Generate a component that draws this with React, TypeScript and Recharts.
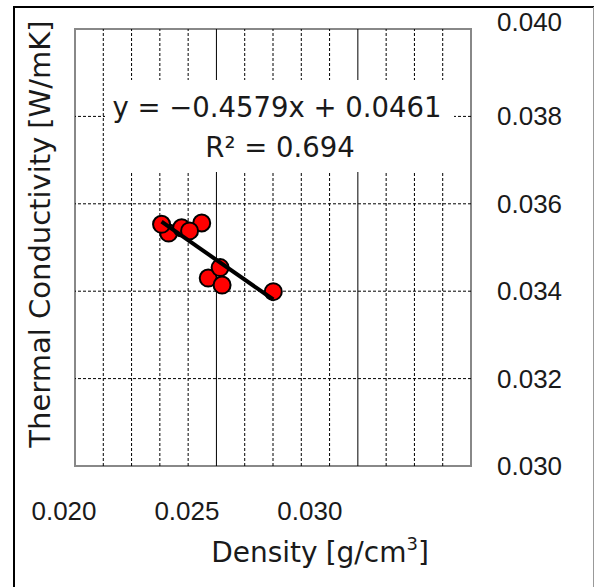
import { ScatterChart, Scatter, XAxis, YAxis, ReferenceLine, ReferenceArea } from 'recharts'

// measured points (listed in drawing order so overlaps match)
const density = [0.02331, 0.02306, 0.02377, 0.02448, 0.02405, 0.02471, 0.0252, 0.02513, 0.02701]
const conductivity = [0.03533, 0.03553, 0.03545, 0.03556, 0.03538, 0.0343, 0.03414, 0.03454, 0.03399]

// linear fit line, ends
const trendX = [0.02306, 0.02701]
const trendY = [0.03559, 0.03381]

const xTicks = [0.02, 0.025, 0.03]
const yTicks = [0.03, 0.032, 0.034, 0.036, 0.038, 0.04]
const xMinorGrid = [0.021, 0.022, 0.023, 0.024, 0.026, 0.027, 0.028, 0.029, 0.031, 0.032, 0.033]
const xMajorGrid = [0.025, 0.03]
const yGrid = [0.032, 0.034, 0.036, 0.038]

const FONT = '"DejaVu Sans", sans-serif'
const TICK_FONT = '"Liberation Sans", Arial, sans-serif'

const points = density.map((x, i) => ({ x, y: conductivity[i] }))
const trend = trendX.map((x, i) => ({ x, y: trendY[i] }))

const RedDot = (props: any) => (
    <circle cx={props.cx} cy={props.cy} r={8.5} fill="#ff0000" stroke="#000" strokeWidth={2} />
)

// the original's x labels drift left of their gridlines
const XTick = ({ x, y, payload }: any) => (
    <text x={x} y={y} dx={-11 - (payload.value - 0.02) * 3700} textAnchor="middle" dominantBaseline="central"
        fontFamily={TICK_FONT} fontSize={26} fill="#1a1a1a">
        {payload.value.toFixed(3)}
    </text>
)

const YTick = ({ x, y, payload }: any) => (
    <text x={x} y={y} dy={payload.value >= 0.04 ? -7 : 0} textAnchor="start" dominantBaseline="central"
        fontFamily={TICK_FONT} fontSize={26} fill="#1a1a1a">
        {payload.value.toFixed(3)}
    </text>
)

export default function App() {
    return (
        <div style={{ position: 'absolute', left: 0, top: 0, width: 594, height: 587, background: '#fff' }}>
            <ScatterChart width={594} height={587} margin={{ top: 29, right: 0, bottom: 0, left: 75 }}>
                <XAxis type="number" dataKey="x" domain={[0.02, 0.034]} ticks={xTicks} interval={0}
                    height={121} axisLine={false} tickLine={false} tickSize={0} tickMargin={45} tick={<XTick />} />
                <YAxis type="number" dataKey="y" orientation="right" domain={[0.03, 0.04]} ticks={yTicks} interval={0}
                    width={123} axisLine={false} tickLine={false} tickSize={0} tickMargin={26} tick={<YTick />} />
                {xMinorGrid.map(v => (
                    <ReferenceLine key={'xm' + v} x={v} stroke="#000" strokeWidth={1} strokeDasharray="3 2" />
                ))}
                {xMajorGrid.map(v => (
                    <ReferenceLine key={'xM' + v} x={v} stroke="#000" strokeWidth={1} />
                ))}
                {yGrid.map(v => (
                    <ReferenceLine key={'y' + v} y={v} stroke="#000" strokeWidth={1} strokeDasharray="3 2" />
                ))}
                <ReferenceArea x1={0.02} x2={0.034} y1={0.03} y2={0.04} fill="none" fillOpacity={0}
                    stroke="#888" strokeWidth={2} />
                <Scatter data={points} shape={<RedDot />} isAnimationActive={false} />
                <Scatter data={trend} shape={() => <g />} line={{ stroke: '#000', strokeWidth: 4 }}
                    isAnimationActive={false} />
            </ScatterChart>

            <svg width={594} height={587} style={{ position: 'absolute', left: 0, top: 0, pointerEvents: 'none' }}>
                {/* outer frame, cropped on the bottom */}
                <line x1={14} y1={7} x2={14} y2={587} stroke="#000" strokeWidth={2} />
                <line x1={13} y1={7} x2={594} y2={7} stroke="#000" strokeWidth={2} />
                <line x1={593.5} y1={7} x2={593.5} y2={587} stroke="#999" strokeWidth={1} />

                {/* trendline equation */}
                <rect x={105} y={80} width={349} height={92} fill="#fff" />
                <text x={277} y={107} textAnchor="middle" dominantBaseline="central"
                    fontFamily={FONT} fontSize={27.5} fill="#1a1a1a">
                    y = −0.4579x + 0.0461
                </text>
                <text x={280} y={147} textAnchor="middle" dominantBaseline="central"
                    fontFamily={FONT} fontSize={27.5} fill="#1a1a1a">
                    R² = 0.694
                </text>

                {/* axis titles */}
                <text x={320} y={552} textAnchor="middle" dominantBaseline="central"
                    fontFamily={FONT} fontSize={28} fill="#1a1a1a">
                    Density<tspan dx={8}>[g/cm</tspan>
                    <tspan dy={-9} fontSize={18}>3</tspan>
                    <tspan dy={9}>]</tspan>
                </text>
                <text x={0} y={0} transform="translate(40 234) rotate(-90)" textAnchor="middle" dominantBaseline="central"
                    fontFamily={FONT} fontSize={29} fill="#1a1a1a">
                    Thermal Conductivity<tspan dx={8}>[W/mK]</tspan>
                </text>
            </svg>
        </div>
    )
}
